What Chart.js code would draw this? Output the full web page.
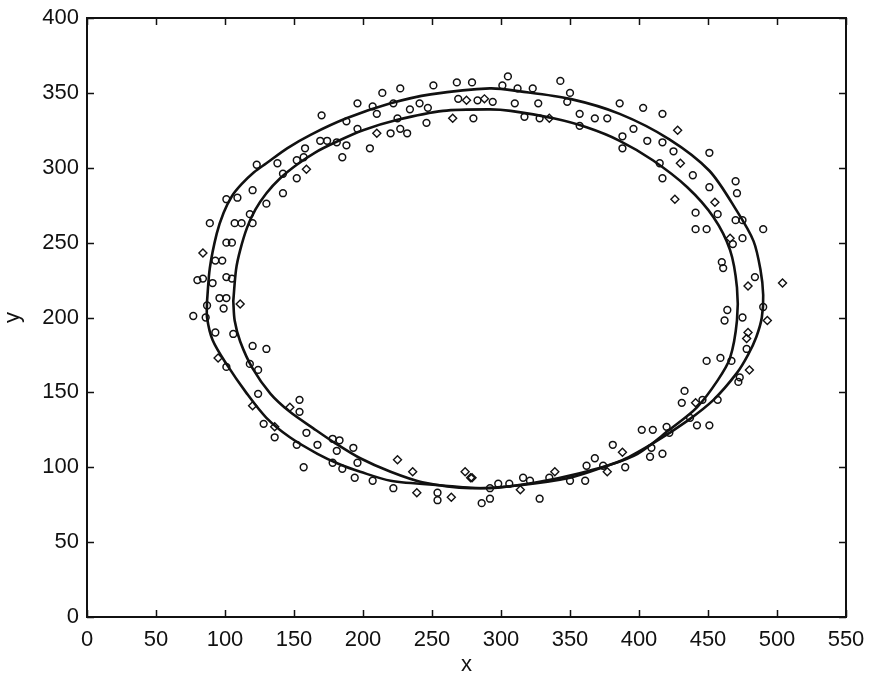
<!DOCTYPE html>
<html>
<head>
<meta charset="utf-8">
<script src="https://cdn.jsdelivr.net/npm/chart.js@4.4.1/dist/chart.umd.min.js"></script>
<style>
  html, body { margin: 0; padding: 0; background: #fff; }
  #wrap { width: 872px; height: 682px; }
</style>
</head>
<body>
<div id="wrap"><canvas id="chart"></canvas></div>
<script>
// Fitted curve A (outer ellipse)
const curveAX = [87, 89, 94, 99, 105, 112, 121, 130, 145, 162, 188, 220, 249, 292, 314, 350, 386, 422, 451, 471, 483, 488, 490, 489, 485, 479, 471, 454, 435, 410, 386, 357, 326, 292, 256, 220, 198, 183, 167, 147, 130, 116, 101, 91, 87, 87];
const curveAY = [211, 233, 256, 270, 281, 289, 297, 303, 313, 322, 333, 343, 349, 353, 351, 346, 336, 319, 298, 271, 251, 232, 215, 200, 187, 175, 163, 145, 131, 116, 104, 96, 90, 86, 88, 91, 97, 102, 109, 120, 133, 149, 169, 185, 200, 211];

// Fitted curve B (inner ellipse)
const curveBX = [106, 108, 111, 116, 122, 130, 140, 152, 165, 180, 200, 225, 258, 292, 307, 338, 362, 386, 410, 435, 454, 466, 471, 471, 466, 457, 442, 422, 399, 374, 350, 314, 278, 243, 220, 198, 180, 164, 147, 133, 120, 111, 107, 106];
const curveBY = [211, 232, 245, 260, 272, 283, 293, 302, 310, 317, 325, 332, 338, 339, 338, 333, 327, 318, 305, 287, 267, 245, 220, 198, 173, 158, 140, 125, 109, 100, 93, 88, 86, 90, 97, 106, 116, 126, 137, 149, 166, 184, 198, 211];

// Measured points, circle markers
const circleX = [
  101, 109, 120, 89, 107, 112, 118, 120, 101, 105, 93, 98, 80, 84, 91, 101, 105, 96, 101, 99, 87, 77, 86, 93, 106, 120, 130, 101, 124, 118, 124,
  123, 138, 152, 157, 142, 152, 130, 142, 169, 174, 181, 188, 158, 185, 170, 188, 196, 207, 214, 227, 222, 234, 241, 247, 251, 268, 279, 269, 283, 294,
  210, 225, 246, 280, 196, 220, 227, 232, 205, 305, 343, 301, 312, 323, 350, 310, 327, 348, 386, 403, 417, 317, 328, 357, 368, 377, 357, 396, 388, 406, 417, 451, 425, 388, 415,
  417, 439, 451, 457, 441, 441, 449, 470, 471, 470, 475, 490, 468, 475, 460, 461, 484, 464, 462, 475, 490, 478, 449, 459, 467, 473, 472, 433, 431, 446, 457, 442, 451, 437,
  420, 402, 410, 422, 381, 409, 417, 368, 408, 362, 374, 390, 361, 350, 335, 316, 321, 306, 298, 292, 292, 328, 286,
  154, 154, 128, 136, 159, 152, 167, 178, 183, 181, 193, 157, 178, 185, 196, 194, 207, 222, 254, 254
];
const circleY = [
  279, 280, 285, 263, 263, 263, 269, 263, 250, 250, 238, 238, 225, 226, 223, 227, 226, 213, 213, 206, 208, 201, 200, 190, 189, 181, 179, 167, 165, 169, 149,
  302, 303, 305, 307, 296, 293, 276, 283, 318, 318, 317, 315, 313, 307, 335, 331, 343, 341, 350, 353, 343, 339, 343, 340, 355, 357, 357, 346, 345, 344,
  336, 333, 330, 333, 326, 323, 326, 323, 313, 361, 358, 355, 353, 353, 350, 343, 343, 344, 343, 340, 336, 334, 333, 336, 333, 333, 328, 326, 321, 318, 317, 310, 311, 313, 303,
  293, 295, 287, 269, 270, 259, 259, 291, 283, 265, 265, 259, 249, 253, 237, 233, 227, 205, 198, 200, 207, 179, 171, 173, 171, 160, 157, 151, 143, 145, 145, 128, 128, 133,
  127, 125, 125, 123, 115, 113, 109, 106, 107, 101, 101, 100, 91, 91, 93, 93, 91, 89, 89, 86, 79, 79, 76,
  145, 137, 129, 120, 123, 115, 115, 119, 118, 111, 113, 100, 103, 99, 103, 93, 91, 86, 83, 78
];

// Measured points, diamond markers
const diamondX = [84, 111, 95, 159, 275, 288, 265, 210, 335, 428, 430, 426, 455, 466, 504, 479, 493, 479, 478, 480, 441, 388, 377, 339, 314, 278, 120, 147, 136, 225, 236, 239, 264, 274, 279];
const diamondY = [243, 209, 173, 299, 345, 346, 333, 323, 333, 325, 303, 279, 277, 253, 223, 221, 198, 190, 186, 165, 143, 110, 97, 97, 85, 93, 141, 140, 127, 105, 97, 83, 80, 97, 93];

const xTicks = [0, 50, 100, 150, 200, 250, 300, 350, 400, 450, 500, 550];
const yTicks = [0, 50, 100, 150, 200, 250, 300, 350, 400];

function toPoints(xs, ys) {
  return xs.map((x, i) => ({ x: x, y: ys[i] }));
}

const tickFont = { family: "'Liberation Sans', Arial, sans-serif", size: 22 };
const ink = "#111";

// frame round the plot area and MATLAB style inward ticks
const framePlugin = {
  id: "frame",
  afterDraw(chart) {
    const { ctx, chartArea: a, scales } = chart;
    ctx.save();
    ctx.strokeStyle = ink;
    ctx.lineWidth = 1.5;
    const len = 7;
    ctx.beginPath();
    scales.x.ticks.forEach((t) => {
      const px = Math.round(scales.x.getPixelForValue(t.value)) + 0.5;
      ctx.moveTo(px, a.bottom);
      ctx.lineTo(px, a.bottom - len);
      ctx.moveTo(px, a.top);
      ctx.lineTo(px, a.top + len);
    });
    scales.y.ticks.forEach((t) => {
      const py = Math.round(scales.y.getPixelForValue(t.value)) + 0.5;
      ctx.moveTo(a.left, py);
      ctx.lineTo(a.left + len, py);
      ctx.moveTo(a.right, py);
      ctx.lineTo(a.right - len, py);
    });
    ctx.stroke();
    ctx.lineWidth = 2;
    ctx.strokeRect(a.left, a.top, a.right - a.left, a.bottom - a.top);
    ctx.restore();
  },
};

const ctx = document.getElementById("chart").getContext("2d");
new Chart(ctx, {
  type: "scatter",
  data: {
    datasets: [
      {
        label: "curve A",
        data: toPoints(curveAX, curveAY),
        showLine: true,
        borderColor: ink,
        borderWidth: 2.6,
        pointRadius: 0,
        tension: 0.3,
        fill: false,
      },
      {
        label: "curve B",
        data: toPoints(curveBX, curveBY),
        showLine: true,
        borderColor: ink,
        borderWidth: 2.6,
        pointRadius: 0,
        tension: 0.3,
        fill: false,
      },
      {
        label: "circles",
        data: toPoints(circleX, circleY),
        pointStyle: "circle",
        pointRadius: 3.4,
        pointBorderWidth: 1.5,
        pointBorderColor: ink,
        pointBackgroundColor: "rgba(255,255,255,0)",
      },
      {
        label: "diamonds",
        data: toPoints(diamondX, diamondY),
        pointStyle: "rectRot",
        pointRadius: 4,
        pointBorderWidth: 1.4,
        pointBorderColor: ink,
        pointBackgroundColor: "rgba(255,255,255,0)",
      },
    ],
  },
  options: {
    responsive: true,
    maintainAspectRatio: false,
    animation: false,
    layout: { padding: { top: 18, right: 26, left: 0, bottom: 0 } },
    plugins: { legend: { display: false }, tooltip: { enabled: false } },
    scales: {
      x: {
        type: "linear",
        min: 0,
        max: 550,
        afterBuildTicks: (s) => { s.ticks = xTicks.map((v) => ({ value: v })); },
        afterFit: (s) => { s.height = 65; },
        grid: { display: false },
        border: { display: false },
        ticks: { color: ink, font: tickFont, padding: 2, maxRotation: 0 },
        title: { display: true, text: "x", color: ink, font: tickFont, padding: { top: 0, bottom: 4 } },
      },
      y: {
        type: "linear",
        min: 0,
        max: 400,
        afterBuildTicks: (s) => { s.ticks = yTicks.map((v) => ({ value: v })); },
        afterFit: (s) => { s.width = 87; },
        grid: { display: false },
        border: { display: false },
        ticks: { color: ink, font: tickFont, padding: 0 },
        title: { display: true, text: "y", color: ink, font: tickFont, padding: 0 },
      },
    },
  },
  plugins: [framePlugin],
});
</script>
</body>
</html>
